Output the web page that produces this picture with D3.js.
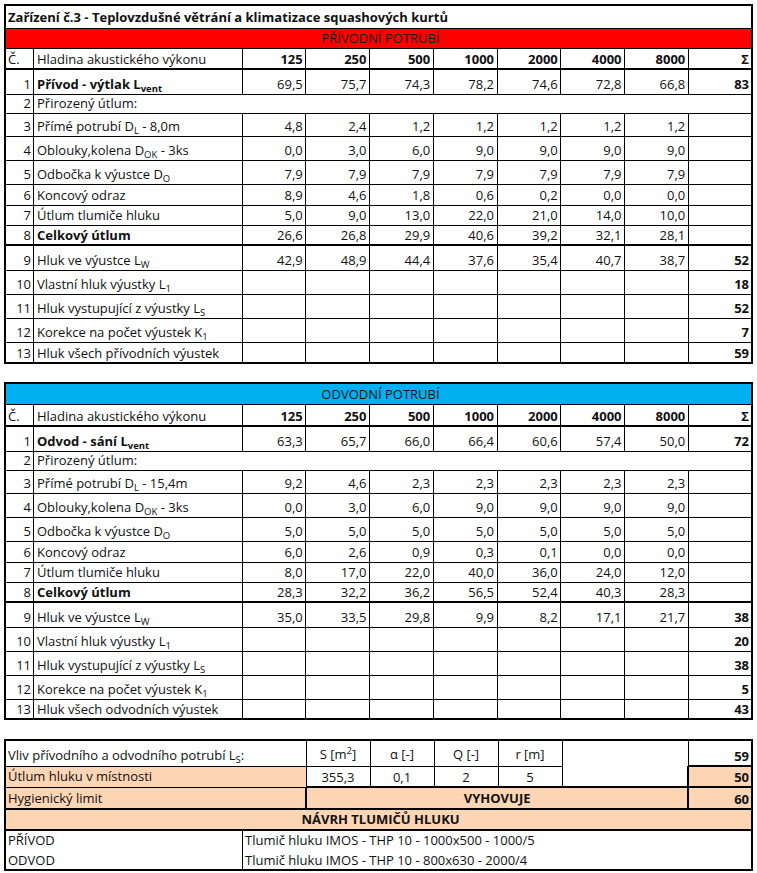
<!DOCTYPE html>
<html>
<head>
<meta charset="utf-8">
<script src="https://cdn.jsdelivr.net/npm/d3@7"></script>
<style>
  body { margin: 0; background: #fff; }
  svg text { font-family: "Open Sans", sans-serif; font-size: 13px; fill: #111; }
</style>
</head>
<body>
<svg id="sheet" width="757" height="873"></svg>
<script>
/* data */
var title = "Zařízení č.3 - Teplovzdušné větrání a klimatizace squashových kurtů";
var freqs = ["125", "250", "500", "1000", "2000", "4000", "8000"];

var supplyLabels = ["Přívod - výtlak L_{vent}", "Přirozený útlum:", "Přímé potrubí D_{L} - 8,0m",
  "Oblouky,kolena D_{OK} - 3ks", "Odbočka k výustce D_{O}", "Koncový odraz", "Útlum tlumiče hluku",
  "Celkový útlum", "Hluk ve výustce L_{W}", "Vlastní hluk výustky L_{1}", "Hluk vystupující z výustky L_{S}",
  "Korekce na počet výustek K_{1}", "Hluk všech přívodních výustek"];
var supplyValues = [
  [69.5, 75.7, 74.3, 78.2, 74.6, 72.8, 66.8],
  null,
  [4.8, 2.4, 1.2, 1.2, 1.2, 1.2, 1.2],
  [0.0, 3.0, 6.0, 9.0, 9.0, 9.0, 9.0],
  [7.9, 7.9, 7.9, 7.9, 7.9, 7.9, 7.9],
  [8.9, 4.6, 1.8, 0.6, 0.2, 0.0, 0.0],
  [5.0, 9.0, 13.0, 22.0, 21.0, 14.0, 10.0],
  [26.6, 26.8, 29.9, 40.6, 39.2, 32.1, 28.1],
  [42.9, 48.9, 44.4, 37.6, 35.4, 40.7, 38.7],
  [], [], [], []
];
var supplySums = [83, null, null, null, null, null, null, null, 52, 18, 52, 7, 59];

var exhaustLabels = ["Odvod - sání L_{vent}", "Přirozený útlum:", "Přímé potrubí D_{L} - 15,4m",
  "Oblouky,kolena D_{OK} - 3ks", "Odbočka k výustce D_{O}", "Koncový odraz", "Útlum tlumiče hluku",
  "Celkový útlum", "Hluk ve výustce L_{W}", "Vlastní hluk výustky L_{1}", "Hluk vystupující z výustky L_{S}",
  "Korekce na počet výustek K_{1}", "Hluk všech odvodních výustek"];
var exhaustValues = [
  [63.3, 65.7, 66.0, 66.4, 60.6, 57.4, 50.0],
  null,
  [9.2, 4.6, 2.3, 2.3, 2.3, 2.3, 2.3],
  [0.0, 3.0, 6.0, 9.0, 9.0, 9.0, 9.0],
  [5.0, 5.0, 5.0, 5.0, 5.0, 5.0, 5.0],
  [6.0, 2.6, 0.9, 0.3, 0.1, 0.0, 0.0],
  [8.0, 17.0, 22.0, 40.0, 36.0, 24.0, 12.0],
  [28.3, 32.2, 36.2, 56.5, 52.4, 40.3, 28.3],
  [35.0, 33.5, 29.8, 9.9, 8.2, 17.1, 21.7],
  [], [], [], []
];
var exhaustSums = [72, null, null, null, null, null, null, null, 38, 20, 38, 5, 43];

var roomHeaders = ["S [m^{2}]", "α [-]", "Q [-]", "r [m]"];
var roomValues = [355.3, 0.1, 2, 5];
var roomLabels = ["Vliv přívodního a odvodního potrubí L_{S}:", "Útlum hluku v místnosti", "Hygienický limit"];
var roomSums = [59, 50, 60];
var verdict = "VYHOVUJE";
var silencerTitle = "NÁVRH TLUMIČŮ HLUKU";
var silencerNames = ["PŘÍVOD", "ODVOD"];
var silencerTypes = ["Tlumič hluku IMOS - THP 10 - 1000x500 - 1000/5", "Tlumič hluku IMOS - THP 10 - 800x630 - 2000/4"];

/* layout */
var svg = d3.select("#sheet");
var left = 5, right = 752, numEnd = 33, labEnd = 242;
var peach = "#fcd5b4";
var boldRows = [0, 7];

var cz = d3.formatLocale({decimal: ",", thousands: " ", grouping: [3], currency: ["", " Kč"]});
var f1 = cz.format(".1f");

var x = d3.scaleBand().domain(freqs.concat(["Σ"])).range([labEnd, right]);

var gFill = svg.append("g"), gLine = svg.append("g").attr("shape-rendering", "crispEdges"), gText = svg.append("g");

function hline(x1, x2, y, w) {
  gLine.append("line").attr("x1", x1).attr("x2", x2).attr("y1", y).attr("y2", y)
    .attr("stroke", "#000").attr("stroke-width", w || 1);
}
function vline(xx, y1, y2, w) {
  gLine.append("line").attr("x1", xx).attr("x2", xx).attr("y1", y1).attr("y2", y2)
    .attr("stroke", "#000").attr("stroke-width", w || 1);
}
function fill(x1, y1, x2, y2, c) {
  gFill.append("rect").attr("x", x1).attr("y", y1).attr("width", x2 - x1).attr("height", y2 - y1).attr("fill", c);
}
/* text with _{sub} and ^{sup} parts */
function txt(xx, y, s, anchor, bold) {
  var t = gText.append("text").attr("x", xx).attr("y", y)
    .attr("text-anchor", anchor || "start").attr("font-weight", bold ? "bold" : null);
  var shift = 0;
  String(s).split(/(_\{[^}]*\}|\^\{[^}]*\})/).filter(function(p) { return p !== ""; }).forEach(function(p) {
    var ts;
    if (p.indexOf("_{") === 0) {
      ts = t.append("tspan").text(p.slice(2, -1)).attr("font-size", "9.5px").attr("dy", 3 - shift); shift = 3;
    } else if (p.indexOf("^{") === 0) {
      ts = t.append("tspan").text(p.slice(2, -1)).attr("font-size", "9.5px").attr("dy", -5 - shift); shift = -5;
    } else {
      ts = t.append("tspan").text(p); if (shift) ts.attr("dy", -shift); shift = 0;
    }
  });
  return t;
}

function drawTable(top, bandText, bandColor, labels, values, sums, heights, withTitle) {
  var ys = [top].concat(Array.from(d3.cumsum(heights), function(h) { return top + h; }));
  var r = 0;
  var bottom = ys[ys.length - 1];
  if (withTitle) {
    txt(left + 3, ys[1] - 6, title, "start", true);
    hline(left, right, ys[1]);
    r = 1;
  }
  // colour band
  fill(left, ys[r], right, ys[r + 1], bandColor);
  txt((left + right) / 2 + 2, ys[r + 1] - 5, bandText, "middle");
  hline(left, right, ys[r + 1]);
  r++;
  // header row
  var hy0 = ys[r], hy1 = ys[r + 1];
  txt(left + 3, hy1 - 5, "Č.");
  txt(numEnd + 4, hy1 - 5, "Hladina akustického výkonu");
  x.domain().forEach(function(k) { txt(x(k) + x.bandwidth() - 3, hy1 - 5, k, "end", true); });
  vline(numEnd, hy0, hy1);
  x.domain().forEach(function(k) { vline(x(k), hy0, hy1); });
  hline(left, right, hy1, 2);
  r++;
  labels.forEach(function(lab, i) {
    var y0 = ys[r + i], y1 = ys[r + i + 1], base = y1 - 5.5;
    txt(numEnd - 2, base, i + 1, "end");
    txt(numEnd + 4, base, lab, "start", boldRows.indexOf(i) >= 0);
    vline(numEnd, y0, y1);
    if (values[i]) {
      x.domain().forEach(function(k) { vline(x(k), y0, y1); });
      values[i].forEach(function(v, j) { txt(x(freqs[j]) + x.bandwidth() - 3, base, f1(v), "end"); });
    }
    if (sums[i] != null) txt(right - 3, base, sums[i], "end", true);
    if (i < labels.length - 1) hline(left, right, y1, i === 7 ? 2 : 1);
  });
  gLine.append("rect").attr("x", left).attr("y", top).attr("width", right - left).attr("height", bottom - top)
    .attr("fill", "none").attr("stroke", "#000").attr("stroke-width", 2);
}

drawTable(5, "PŘÍVODNÍ POTRUBÍ", "#ff0000", supplyLabels, supplyValues, supplySums,
  [23, 20, 21, 25, 19, 23, 24, 24, 21, 20, 20, 25, 24, 24, 24, 21], true);
drawTable(383, "ODVODNÍ POTRUBÍ", "#00b0f0", exhaustLabels, exhaustValues, exhaustSums,
  [21, 22, 25, 19, 23, 24, 24, 21, 20, 20, 25, 24, 24, 24, 20], false);

/* room block */
var yb = [740, 766, 787, 809, 830, 850, 870];
var xr = d3.scaleBand().domain(roomHeaders).range([306, 562]);
var sumX = x("Σ");
fill(left, yb[1], 306, yb[3], peach);
fill(306, yb[2], right, yb[3], peach);
fill(sumX, yb[1], right, yb[2], peach);
fill(left, yb[3], right, yb[4], peach);

roomLabels.forEach(function(l, i) { txt(left + 3, yb[i + 1] - 6, l); });
roomHeaders.forEach(function(h, i) {
  txt(xr(h) + xr.bandwidth() / 2, yb[1] - 7, h, "middle");
  var v = roomValues[i];
  txt(xr(h) + xr.bandwidth() / 2, yb[2] - 5, v % 1 ? f1(v) : v, "middle");
});
roomSums.forEach(function(s, i) { txt(right - 3, yb[i + 1] - 5, s, "end", true); });
txt((306 + sumX) / 2, yb[3] - 6, verdict, "middle", true);
txt((left + right) / 2 + 2, yb[4] - 6, silencerTitle, "middle", true);
silencerNames.forEach(function(n, i) {
  txt(left + 3, yb[5 + i] - 5, n);
  txt(labEnd + 3, yb[5 + i] - 5, silencerTypes[i]);
});

hline(left, 562, yb[1]); hline(sumX, right, yb[1], 2);
hline(left, 306, yb[2]); hline(306, right, yb[2], 2);
hline(left, right, yb[3], 2); hline(left, right, yb[4], 2);
vline(306, yb[0], yb[2]); vline(306, yb[2], yb[3], 2);
roomHeaders.forEach(function(h) { vline(xr(h) + xr.bandwidth(), yb[0], yb[2]); });
vline(sumX, yb[0], yb[1]); vline(sumX, yb[1], yb[3], 2);
vline(labEnd, yb[4], yb[6]);
gLine.append("rect").attr("x", left).attr("y", yb[0]).attr("width", right - left).attr("height", yb[6] - yb[0])
  .attr("fill", "none").attr("stroke", "#000").attr("stroke-width", 2);
</script>
</body>
</html>
